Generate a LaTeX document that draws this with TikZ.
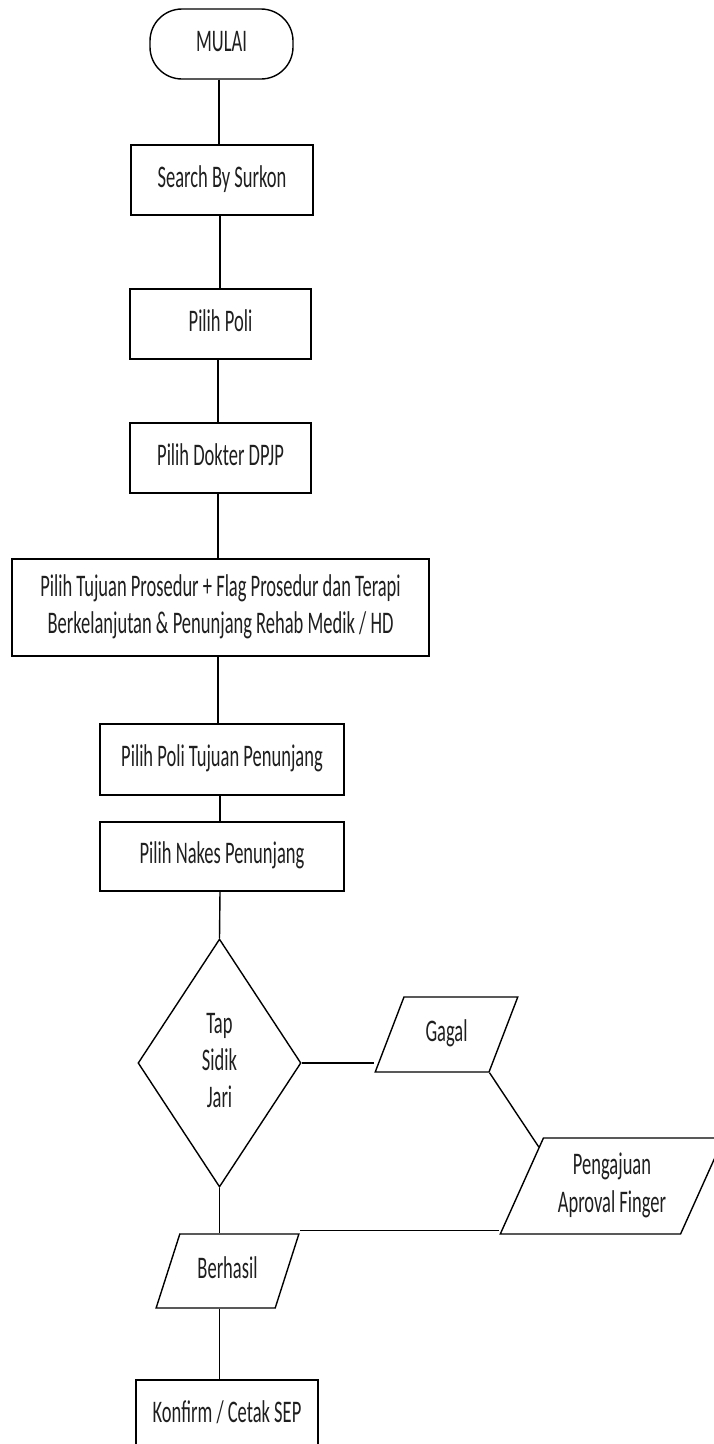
\documentclass[tikz,border=0pt]{standalone}
\usepackage{fontspec}
\setmainfont{Carlito}
\usepackage{graphicx}
\usetikzlibrary{shapes.geometric}
\newcommand\vtext[1]{\scalebox{1}[1.7]{\begin{tabular}{@{}c@{}}#1\end{tabular}}}
\begin{document}
\begin{tikzpicture}[x=1pt,y=-1pt,
  every node/.style={font=\fontsize{18.5}{22}\selectfont, text=black!88, inner sep=0pt},
  stepbox/.style={draw, line width=1.4pt, rectangle},
  term/.style={draw, line width=1.4pt, rectangle, rounded corners=32pt},
  decide/.style={draw, line width=1.4pt, diamond},
  io/.style={draw, line width=1.4pt, trapezium, trapezium stretches=true, inner sep=3pt},
  conn/.style={draw, line width=1.4pt}]
\useasboundingbox (0,0) rectangle (714,1444);
\clip (0,0) rectangle (714,1444);

\node[term, minimum width=143pt, minimum height=70pt] (mulai) at (221.5,44) {\vtext{MULAI}};
\node[stepbox, minimum width=182pt, minimum height=70pt] (s1) at (222,180) {\vtext{Search By Surkon}};
\node[stepbox, minimum width=181pt, minimum height=70pt] (s2) at (220.5,324) {\vtext{Pilih Poli}};
\node[stepbox, minimum width=181pt, minimum height=70pt] (s3) at (220.5,458) {\vtext{Pilih Dokter DPJP}};
\node[stepbox, minimum width=417pt, minimum height=97pt] (s4) at (220.5,607.5) {\vtext{Pilih Tujuan Prosedur + Flag Prosedur dan Terapi\\Berkelanjutan \& Penunjang Rehab Medik / HD}};
\node[stepbox, minimum width=244pt, minimum height=71pt] (s5) at (222,759.5) {\vtext{Pilih Poli Tujuan Penunjang}};
\node[stepbox, minimum width=244pt, minimum height=69pt] (s6) at (222,856.5) {\vtext{Pilih Nakes Penunjang}};
\node[decide, aspect=0.657, minimum width=163pt, minimum height=248pt] (d) at (219.5,1063) {\vtext{Tap\\Sidik\\Jari}};
\node[io, trapezium left angle=69.5, trapezium right angle=110.5, minimum width=143pt, minimum height=75pt] (gagal) at (446.5,1034.5) {\vtext{Gagal}};
\node[io, trapezium left angle=66, trapezium right angle=114, minimum width=224pt, minimum height=96pt] (peng) at (612,1186) {\vtext{Pengajuan\\Aproval Finger}};
\node[io, trapezium left angle=69.3, trapezium right angle=110.7, minimum width=143pt, minimum height=74pt] (ber) at (227.5,1271) {\vtext{Berhasil}};
\node[stepbox, minimum width=182pt, minimum height=70pt] (konf) at (227,1415) {\vtext{Konfirm / Cetak SEP}};

\draw[conn] (mulai.south -| 219,0) -- (s1.north -| 219,0);
\draw[conn] (s1.south -| 220,0) -- (s2.north -| 220,0);
\draw[conn] (s2.south -| 218,0) -- (s3.north -| 218,0);
\draw[conn] (s3.south -| 218,0) -- (s4.north -| 218,0);
\draw[conn] (s4.south -| 218,0) -- (s5.north -| 218,0);
\draw[conn] (s5.south -| 220,0) -- (s6.north -| 220,0);
\draw[conn] (s6.south -| 220,0) -- (d.north);
\draw[conn] (d.east) -- (d.east -| gagal.bottom left corner);
\draw[conn] (gagal.bottom right corner) -- ([yshift=-10pt,xshift=-4pt]peng.top left corner);
\draw[conn] ([yshift=4pt]peng.bottom left corner) -- ([yshift=4pt]peng.bottom left corner -| ber.top right corner);
\draw[conn] (d.south) -- (d.south |- ber.north);
\draw[conn] (d.south |- ber.south) -- (d.south |- konf.north);
\end{tikzpicture}
\end{document}
